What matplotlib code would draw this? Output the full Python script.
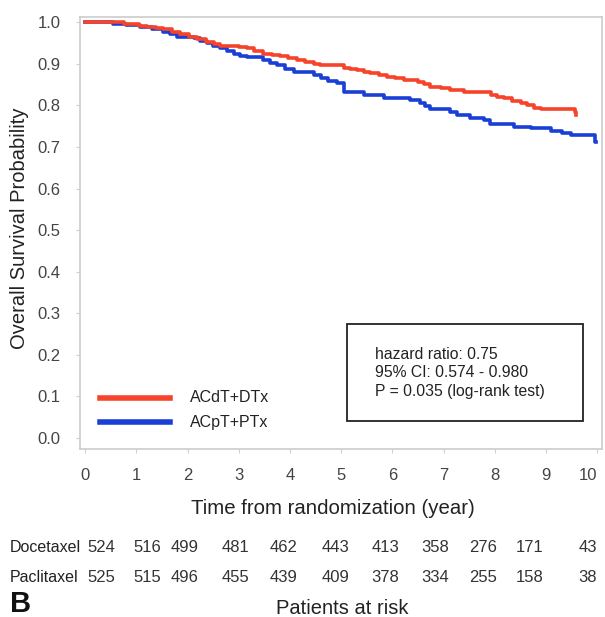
import matplotlib.pyplot as plt

# Kaplan-Meier steps (year, survival)
doc_t = [0, 0.75, 0.88, 1.05, 1.2, 1.38, 1.53, 1.7, 1.86, 2.02, 2.18, 2.35, 2.51, 2.64,
         3.0, 3.16, 3.3, 3.48, 3.65, 3.81, 3.97, 4.13, 4.3, 4.46, 4.59, 5.05, 5.18, 5.31,
         5.45, 5.57, 5.73, 5.89, 6.05, 6.22, 6.5, 6.62, 6.74, 6.95, 7.13, 7.39, 7.92,
         8.05, 8.17, 8.33, 8.5, 8.62, 8.76, 8.89, 9.56, 9.59]
doc_s = [1.0, 0.997, 0.995, 0.992, 0.99, 0.986, 0.983, 0.978, 0.972, 0.966, 0.959, 0.953,
         0.948, 0.944, 0.941, 0.9375, 0.931, 0.925, 0.922, 0.919, 0.914, 0.909, 0.904,
         0.899, 0.897, 0.891, 0.888, 0.885, 0.881, 0.877, 0.873, 0.869, 0.865, 0.861,
         0.856, 0.851, 0.845, 0.841, 0.837, 0.833, 0.825, 0.821, 0.817, 0.811, 0.805,
         0.8, 0.795, 0.792, 0.784, 0.777]
pac_t = [0, 0.55, 0.8, 1.07, 1.3, 1.53, 1.66, 1.79, 2.12, 2.25, 2.38, 2.5, 2.64, 2.77,
         2.9, 3.03, 3.16, 3.48, 3.6, 3.74, 3.9, 4.07, 4.46, 4.6, 4.75, 4.92, 5.05, 5.44,
         5.83, 6.35, 6.54, 6.64, 6.74, 7.13, 7.26, 7.52, 7.78, 7.91, 8.37, 8.7, 9.09,
         9.3, 9.48, 9.96, 9.98]
pac_s = [1.0, 0.995, 0.993, 0.99, 0.984, 0.978, 0.972, 0.966, 0.962, 0.956, 0.951, 0.944,
         0.9375, 0.931, 0.924, 0.92, 0.916, 0.909, 0.903, 0.897, 0.889, 0.881, 0.873,
         0.866, 0.859, 0.853, 0.832, 0.825, 0.819, 0.813, 0.805, 0.798, 0.792, 0.785,
         0.777, 0.771, 0.765, 0.755, 0.749, 0.745, 0.739, 0.733, 0.728, 0.713, 0.713]

years = list(range(11))
risk_doc = [524, 516, 499, 481, 462, 443, 413, 358, 276, 171, 43]
risk_pac = [525, 515, 496, 455, 439, 409, 378, 334, 255, 158, 38]

plt.rcParams['font.family'] = ['Liberation Sans', 'DejaVu Sans']

W, H = 605, 617
fig = plt.figure(figsize=(W / 100, H / 100), dpi=100)
ax = fig.add_axes([80 / W, 1 - 449 / H, 522 / W, 432 / H])

red = '#f5442a'
blue = '#1a3fd6'
ax.plot(doc_t, doc_s, drawstyle='steps-post', color=red, lw=2.6, zorder=3)
ax.plot(pac_t, pac_s, drawstyle='steps-post', color=blue, lw=2.6, zorder=2)

ax.set_xlim(-0.1, 10.09)
ax.set_ylim(-0.027, 1.013)
ax.set_xticks(years)
ax.set_yticks([i / 10 for i in range(11)])
ax.set_yticklabels([f'{i / 10:.1f}' for i in range(11)])
ax.tick_params(axis='both', colors='#d0d0d0', labelcolor='#444444', labelsize=12, length=3)
ax.tick_params(axis='x', pad=11)
ax.tick_params(axis='y', pad=11)
for sp in ax.spines.values():
    sp.set_color('#cccccc')
    sp.set_linewidth(1.2)
ax.get_xticklabels()[-1].set_horizontalalignment('right')
ax.get_xticklabels()[-1].set_x(10.11)

ax.set_ylabel('Overall Survival Probability', fontsize=14.5, color='#222222')
ax.set_xlabel('Time from randomization (year)', fontsize=14.7, color='#222222')
ax.yaxis.set_label_coords(-0.098, 0.51)
ax.xaxis.set_label_coords(0.485, -0.115)

# legend drawn by hand
ax.plot([0.29, 1.66], [0.096, 0.096], color=red, lw=4)
ax.plot([0.29, 1.66], [0.038, 0.038], color=blue, lw=4)
ax.text(2.05, 0.096, 'ACdT+DTx', fontsize=11.5, va='center', color='#222222')
ax.text(2.05, 0.038, 'ACpT+PTx', fontsize=11.5, va='center', color='#222222')

# stats box
ax.add_patch(plt.Rectangle((5.12, 0.041), 4.6, 0.233, fill=False, ec='#222222', lw=1.3))
ax.text(5.66, 0.156, 'hazard ratio: 0.75\n95% CI: 0.574 - 0.980\nP = 0.035 (log-rank test)',
        fontsize=11.3, va='center', ha='left', color='#222222', linespacing=1.3)

# patients at risk
risk_x = [101, 147, 185, 235, 284, 336, 385, 435, 483, 530, 588]
row_y = [1 - 547 / H, 1 - 577 / H]
fig.text(10 / W, row_y[0], 'Docetaxel', fontsize=11.5, va='center', color='#222222')
fig.text(10 / W, row_y[1], 'Paclitaxel', fontsize=11.5, va='center', color='#222222')
for xp, d, p in zip(risk_x, risk_doc, risk_pac):
    fig.text(xp / W, row_y[0], str(d), fontsize=12, va='center', ha='center', color='#333333')
    fig.text(xp / W, row_y[1], str(p), fontsize=12, va='center', ha='center', color='#333333')

fig.text(10 / W, 1 - 604 / H, 'B', fontsize=21, fontweight='bold', va='center', color='#111111')
fig.text(342 / W, 1 - 608 / H, 'Patients at risk', fontsize=14.5, va='center', ha='center',
         color='#222222')

fig.savefig('out.png', dpi=100)
